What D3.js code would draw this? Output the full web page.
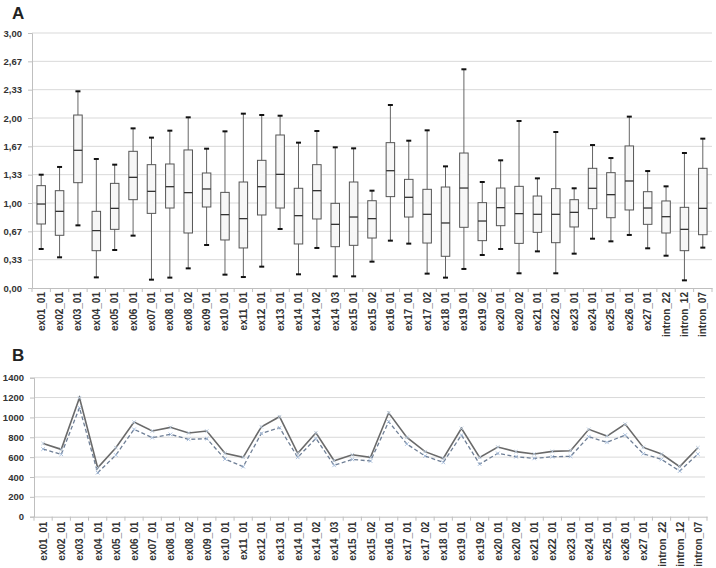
<!DOCTYPE html>
<html><head><meta charset="utf-8">
<script src="https://cdn.jsdelivr.net/npm/d3@7"></script>
<style>body{margin:0;background:#fff}svg{display:block;font-family:"Liberation Sans",Arial,sans-serif}</style>
</head><body><svg id="c" width="716" height="568"></svg>
<script>
const categories=["ex01_01","ex02_01","ex03_01","ex04_01","ex05_01","ex06_01","ex07_01","ex08_01","ex08_02","ex09_01","ex10_01","ex11_01","ex12_01","ex13_01","ex14_01","ex14_02","ex14_03","ex15_01","ex15_02","ex16_01","ex17_01","ex17_02","ex18_01","ex19_01","ex19_02","ex20_01","ex20_02","ex21_01","ex22_01","ex23_01","ex24_01","ex25_01","ex26_01","ex27_01","intron_22","intron_12","intron_07"];
const whiskerHigh=[1.333,1.424,2.314,1.518,1.451,1.878,1.769,1.851,2.008,1.639,1.843,2.051,2.035,2.027,1.710,1.847,1.655,1.643,1.145,2.153,1.733,1.855,1.431,2.573,1.247,1.502,1.965,1.290,1.835,1.173,1.682,1.529,2.016,1.376,1.196,1.588,1.757];
const q3=[1.204,1.145,2.035,0.902,1.231,1.608,1.451,1.459,1.624,1.353,1.125,1.247,1.502,1.800,1.173,1.451,0.996,1.247,1.027,1.710,1.278,1.161,1.188,1.588,1.004,1.176,1.196,1.082,1.169,1.039,1.408,1.357,1.671,1.133,1.024,0.949,1.408];
const median=[0.988,0.902,1.620,0.675,0.937,1.302,1.137,1.192,1.122,1.165,0.863,0.816,1.192,1.337,0.851,1.145,0.749,0.835,0.816,1.380,1.067,0.867,0.765,1.176,0.788,0.945,0.875,0.867,0.867,0.890,1.173,1.098,1.259,0.941,0.839,0.690,0.937];
const q1=[0.753,0.620,1.239,0.439,0.690,1.039,0.878,0.941,0.647,0.953,0.565,0.471,0.859,0.941,0.518,0.812,0.486,0.502,0.588,1.075,0.835,0.529,0.373,0.714,0.557,0.733,0.525,0.655,0.533,0.718,0.933,0.827,0.918,0.749,0.647,0.439,0.627];
const whiskerLow=[0.459,0.361,0.737,0.125,0.447,0.616,0.098,0.122,0.231,0.506,0.157,0.129,0.251,0.694,0.161,0.471,0.137,0.137,0.310,0.557,0.522,0.169,0.122,0.224,0.388,0.459,0.173,0.431,0.173,0.404,0.580,0.549,0.624,0.467,0.380,0.090,0.475];
const ticksA=[0,1/3,2/3,1,4/3,5/3,2,7/3,8/3,3];
const tickLabelsA=["0,00","0,33","0,67","1,00","1,33","1,67","2,00","2,33","2,67","3,00"];
const solidSeries=[738,678,1198,493,695,953,863,900,843,863,638,598,906,1007,638,846,564,624,598,1047,799,655,587,890,598,702,655,631,658,665,880,812,933,698,631,504,695];
const dashedSeries=[681,628,1098,443,621,880,796,829,779,786,581,504,839,896,598,789,517,577,561,957,732,611,547,822,530,638,604,587,604,608,806,749,822,634,577,460,631];
const ticksB=[0,200,400,600,800,1000,1200,1400];

const svg=d3.select("#c");
// Panel A
const xA=d3.scaleBand().domain(categories).range([32,712]);
const yA=d3.scaleLinear().domain([0,3]).range([288,33]);
const gA=svg.append("g");
gA.append("text").attr("x",12).attr("y",19).attr("font-size",17).attr("font-weight","bold").attr("fill","#222").text("A");
gA.selectAll("line.grid").data(ticksA.slice(1)).join("line").attr("x1",32).attr("x2",712).attr("y1",d=>yA(d)).attr("y2",d=>yA(d)).attr("stroke","#d9d9d9").attr("stroke-width",1);
const axYA=gA.append("g").attr("transform","translate(32,0)").call(d3.axisLeft(yA).tickValues(ticksA).tickFormat((d,i)=>tickLabelsA[i]).tickSize(4).tickPadding(6));
axYA.select(".domain").attr("stroke","#bfbfbf");
axYA.selectAll(".tick line").attr("stroke","#bfbfbf");
axYA.selectAll("text").attr("font-size",9.5).attr("font-weight","bold").attr("fill","#333").attr("font-family","Liberation Sans,Arial");
const axXA=gA.append("g").attr("transform","translate(0,288)").call(d3.axisBottom(xA).tickSize(0).tickPadding(0));
axXA.select(".domain").attr("stroke","#bfbfbf");
axXA.selectAll("text").attr("font-size",10).attr("font-weight","bold").attr("fill","#333").attr("font-family","Liberation Sans,Arial")
  .attr("transform","rotate(-90)").attr("text-anchor","end").attr("dx","-4").attr("dy","3.5").attr("y",0);
gA.selectAll("line.xt").data(d3.range(categories.length+1)).join("line").attr("x1",i=>32+i*xA.step()).attr("x2",i=>32+i*xA.step()).attr("y1",288).attr("y2",292).attr("stroke","#bfbfbf");
const bw=8.5;
const boxes=gA.selectAll("g.box").data(categories).join("g").attr("transform",d=>`translate(${xA(d)+xA.bandwidth()/2},0)`);
boxes.append("line").attr("y1",(d,i)=>yA(whiskerHigh[i])).attr("y2",(d,i)=>yA(whiskerLow[i])).attr("stroke","#666").attr("stroke-width",1);
boxes.append("rect").attr("x",-bw/2).attr("width",bw).attr("y",(d,i)=>yA(q3[i])).attr("height",(d,i)=>yA(q1[i])-yA(q3[i])).attr("fill","#f7f7f7").attr("stroke","#555").attr("stroke-width",1);
boxes.append("line").attr("x1",-bw/2).attr("x2",bw/2).attr("y1",(d,i)=>yA(median[i])).attr("y2",(d,i)=>yA(median[i])).attr("stroke","#333").attr("stroke-width",1.3);
boxes.append("line").attr("x1",-2.5).attr("x2",2.5).attr("y1",(d,i)=>yA(whiskerHigh[i])).attr("y2",(d,i)=>yA(whiskerHigh[i])).attr("stroke","#111").attr("stroke-width",2);
boxes.append("line").attr("x1",-2.5).attr("x2",2.5).attr("y1",(d,i)=>yA(whiskerLow[i])).attr("y2",(d,i)=>yA(whiskerLow[i])).attr("stroke","#111").attr("stroke-width",2);

// Panel B
const xB=d3.scalePoint().domain(categories).range([34,707]).padding(0.5);
const yB=d3.scaleLinear().domain([0,1400]).range([516.7,377.7]);
const gB=svg.append("g");
gB.append("text").attr("x",12).attr("y",361).attr("font-size",17).attr("font-weight","bold").attr("fill","#222").text("B");
gB.selectAll("line.grid").data(ticksB.slice(1)).join("line").attr("x1",34).attr("x2",705).attr("y1",d=>yB(d)).attr("y2",d=>yB(d)).attr("stroke","#d9d9d9").attr("stroke-width",1);
const axYB=gB.append("g").attr("transform","translate(34,0)").call(d3.axisLeft(yB).tickValues(ticksB).tickFormat(d3.format("d")).tickSize(4).tickPadding(6));
axYB.select(".domain").attr("stroke","#bfbfbf");
axYB.selectAll(".tick line").attr("stroke","#bfbfbf");
axYB.selectAll("text").attr("font-size",9.5).attr("font-weight","bold").attr("fill","#333").attr("font-family","Liberation Sans,Arial");
const axXB=gB.append("g").attr("transform","translate(0,516.7)").call(d3.axisBottom(xB).tickSize(0).tickPadding(0));
axXB.select(".domain").attr("stroke","#bfbfbf");
axXB.selectAll("text").attr("font-size",10).attr("font-weight","bold").attr("fill","#333").attr("font-family","Liberation Sans,Arial")
  .attr("transform","rotate(-90)").attr("text-anchor","end").attr("dx","-5").attr("dy","3.5").attr("y",0);
gB.selectAll("line.xt").data(d3.range(categories.length+1)).join("line").attr("x1",i=>34+i*xB.step()).attr("x2",i=>34+i*xB.step()).attr("y1",516.7).attr("y2",520.7).attr("stroke","#bfbfbf");
const line=d3.line().x((d,i)=>xB(categories[i])).y(d=>yB(d));
gB.append("path").datum(dashedSeries).attr("d",line).attr("fill","none").attr("stroke","#6f7f96").attr("stroke-width",1.3).attr("stroke-dasharray","4,2.5");
gB.append("path").datum(solidSeries).attr("d",line).attr("fill","none").attr("stroke","#6a6a6a").attr("stroke-width",1.6);
function marks(data,color){
  const s=1.8;
  gB.append("g").selectAll("path").data(data).join("path")
    .attr("d",(d,i)=>{const x=xB(categories[i]),y=yB(d);return `M${x-s},${y-s}L${x+s},${y+s}M${x-s},${y+s}L${x+s},${y-s}`;})
    .attr("stroke",color).attr("stroke-width",0.9).attr("fill","none");
}
marks(dashedSeries,"#9fb8d8");
marks(solidSeries,"#b9c9dc");
</script></body></html>
